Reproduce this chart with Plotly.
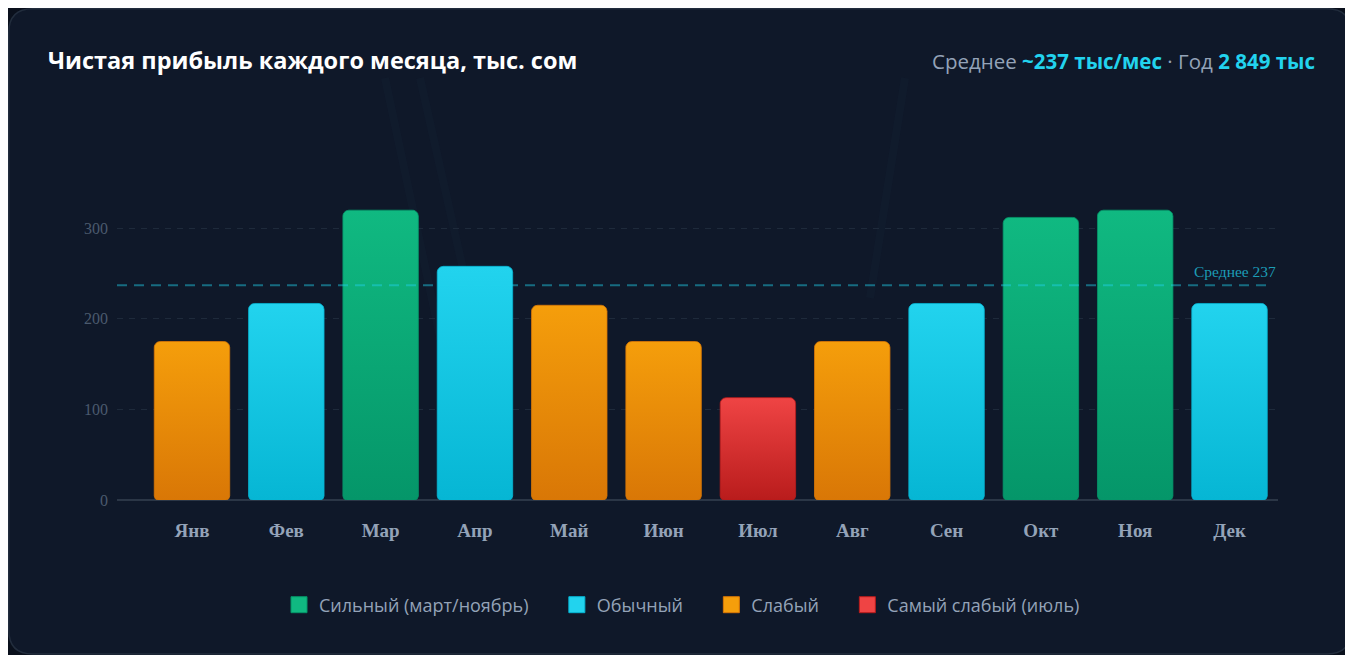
import numpy as np
import plotly.graph_objects as go

months = ["Янв", "Фев", "Мар", "Апр", "Май", "Июн", "Июл", "Авг", "Сен", "Окт", "Ноя", "Дек"]
profit = [175, 217, 320, 258, 215, 175, 113, 175, 217, 312, 320, 217]
group = ["weak", "normal", "strong", "normal", "weak", "weak", "weakest", "weak", "normal", "strong", "strong", "normal"]
average = 237
y_ticks = [0, 100, 200, 300]

group_names = {
    "strong": "Сильный (март/ноябрь)",
    "normal": "Обычный",
    "weak": "Слабый",
    "weakest": "Самый слабый (июль)",
}
group_colors = {  # (top, bottom)
    "strong": ("#10b981", "#059669"),
    "normal": ("#22d3ee", "#06b6d4"),
    "weak": ("#f59e0b", "#d97706"),
    "weakest": ("#ef4444", "#b91c1c"),
}
legend_order = ["strong", "normal", "weak", "weakest"]

# layout geometry (pixels, figure coordinates; page has an 8px body margin)
W, H = 1345, 647
L, R, T, B = 109, 1270, 175, 492
y_max = 350
x_lo, x_hi = -0.795, 11.514
px_x = (R - L) / (x_hi - x_lo)
px_y = (B - T) / y_max
bar_w = 0.8


def rounded_bar(xc, h, r_top=6, r_bot=4):
    hw = bar_w / 2
    pts = []

    def arc(cx, cy, r, a0, a1):
        rx, ry = r / px_x, r / px_y
        for a in np.linspace(a0, a1, 8):
            pts.append((cx + rx * np.cos(a), cy + ry * np.sin(a)))

    x0, x1 = xc - hw, xc + hw
    rtx, rty = r_top / px_x, r_top / px_y
    rbx, rby = r_bot / px_x, r_bot / px_y
    arc(x0 + rbx, 0 + rby, r_bot, np.pi, 1.5 * np.pi)
    arc(x1 - rbx, 0 + rby, r_bot, 1.5 * np.pi, 2 * np.pi)
    arc(x1 - rtx, h - rty, r_top, 0, 0.5 * np.pi)
    arc(x0 + rtx, h - rty, r_top, 0.5 * np.pi, np.pi)
    pts.append(pts[0])
    xs, ys = zip(*pts)
    return list(xs), list(ys)


def xp(px):
    return (px - L) / (R - L)


def yp(py):
    return (B - py) / (B - T)


fig = go.Figure()

# card background
cx0, cy0, cx1, cy1, cr = 0.75, 0.75, 1343, 646, 24
path = (
    f"M {xp(cx0 + cr)} {yp(cy0)} L {xp(cx1 - cr)} {yp(cy0)} "
    f"Q {xp(cx1)} {yp(cy0)} {xp(cx1)} {yp(cy0 + cr)} "
    f"L {xp(cx1)} {yp(cy1 - cr)} Q {xp(cx1)} {yp(cy1)} {xp(cx1 - cr)} {yp(cy1)} "
    f"L {xp(cx0 + cr)} {yp(cy1)} Q {xp(cx0)} {yp(cy1)} {xp(cx0)} {yp(cy1 - cr)} "
    f"L {xp(cx0)} {yp(cy0 + cr)} Q {xp(cx0)} {yp(cy0)} {xp(cx0 + cr)} {yp(cy0)} Z"
)
fig.add_shape(type="path", xref="paper", yref="paper", path=path,
              fillcolor="#0f1829", line=dict(color="#222d3d", width=1.5), layer="below")

# faint decorative rays
for (a, b, c, d) in [(377, 70, 462, 470), (412, 70, 502, 470), (897, 70, 862, 290)]:
    fig.add_shape(type="line", xref="paper", yref="paper", x0=xp(a), y0=yp(b), x1=xp(c), y1=yp(d),
                  line=dict(color="rgba(40,60,90,0.08)", width=8), layer="below")

for i, (m, v, g) in enumerate(zip(months, profit, group)):
    top, bot = group_colors[g]
    xs, ys = rounded_bar(i, v)
    fig.add_trace(go.Scatter(
        x=xs, y=ys, mode="lines", fill="toself",
        line=dict(width=0.8, color=bot),
        fillgradient=dict(type="vertical", colorscale=[[0, bot], [1, top]]),
        showlegend=False, hoverinfo="text", text=f"{m}: {v}",
    ))

pad = "\u00a0" * 5
for k, g in enumerate(legend_order):
    top, bot = group_colors[g]
    fig.add_trace(go.Scatter(
        x=[None], y=[None], mode="markers",
        name=group_names[g] + (pad if k < len(legend_order) - 1 else ""),
        marker=dict(symbol="square", size=18, color=top, line=dict(width=1, color=bot)),
    ))

# average line
fig.add_shape(type="line", xref="paper", yref="y", x0=0, x1=0.995, y0=average, y1=average,
              line=dict(color="rgba(34,211,238,0.45)", width=2, dash="10px,7px"), layer="above")
fig.add_annotation(xref="paper", yref="y", x=1.0, y=average, xanchor="right", yanchor="bottom",
                   yshift=3, showarrow=False, text=f"Среднее {average}",
                   font=dict(family="Liberation Serif, serif", size=15.5, color="rgba(34,211,238,0.72)"))

# title and summary
fig.add_annotation(xref="paper", yref="paper", x=xp(38), y=yp(52), xanchor="left", yanchor="middle",
                   showarrow=False, text="<b>Чистая прибыль каждого месяца, тыс. сом</b>",
                   font=dict(family="Open Sans, Noto Sans, sans-serif", size=23.5, color="#ffffff"))
fig.add_annotation(xref="paper", yref="paper", x=xp(1309), y=yp(53), xanchor="right", yanchor="middle",
                   showarrow=False,
                   text=("<span style='color:#94a3b8'>Среднее </span>"
                         "<b>~237 тыс/мес</b>"
                         "<span style='color:#94a3b8'> · Год </span>"
                         "<b>2 849 тыс</b>"),
                   font=dict(family="Open Sans, Noto Sans, sans-serif", size=20.5, color="#22d3ee"))

fig.update_layout(
    width=W, height=H,
    margin=dict(l=L, r=W - R, t=T, b=H - B, pad=0),
    paper_bgcolor="#0a101c",
    plot_bgcolor="rgba(0,0,0,0)",
    showlegend=True,
    legend=dict(orientation="h", x=xp(674), y=yp(597), xanchor="center", yanchor="middle",
                font=dict(family="Open Sans, Noto Sans, sans-serif", size=18, color="#94a3b8"),
                bgcolor="rgba(0,0,0,0)", itemclick=False, itemdoubleclick=False,
                traceorder="normal", itemwidth=30),
    xaxis=dict(range=[x_lo, x_hi], tickvals=list(range(len(months))),
               ticktext=[f"<b>{m}</b>" for m in months], showgrid=False, zeroline=False,
               showline=False, ticks="", ticklabelstandoff=17,
               tickfont=dict(family="Liberation Serif, serif", size=19, color="#94a3b8")),
    yaxis=dict(range=[0, y_max], tickvals=y_ticks, showgrid=True, gridcolor="#1e2a3b",
               griddash="6px,6px", gridwidth=1, zeroline=True, zerolinecolor="#2b3646", zerolinewidth=2,
               showline=False, ticks="", ticklabelstandoff=8,
               tickfont=dict(family="Liberation Serif, serif", size=16, color="#4b5a6e")),
    hovermode="closest",
)

fig.write_html("out.html")
